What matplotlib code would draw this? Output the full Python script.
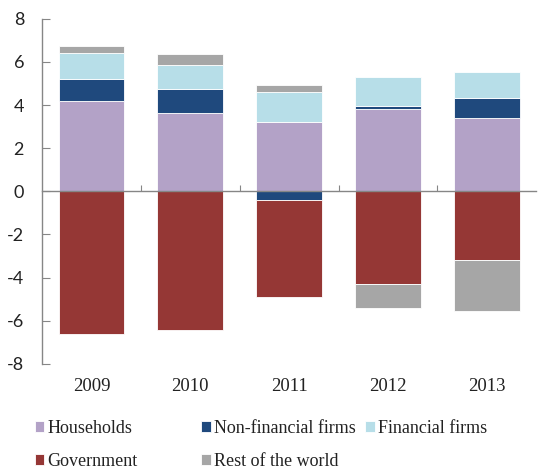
#sector balances, stacked bars
import numpy as np
import matplotlib.pyplot as plt

plt.rcParams['axes.unicode_minus'] = False

years = ['2009', '2010', '2011', '2012', '2013']
households = [4.2, 3.63, 3.2, 3.83, 3.41]
nonfin_firms = [1.0, 1.1, -0.4, 0.12, 0.9]
fin_firms = [1.2, 1.12, 1.42, 1.35, 1.22]
government = [-6.62, -6.42, -4.5, -4.32, -3.18]
rest_of_world = [0.33, 0.51, 0.33, -1.1, -2.35]

series = [('Households', households, '#b3a2c7'),
          ('Non-financial firms', nonfin_firms, '#1f497d'),
          ('Financial firms', fin_firms, '#b7dee8'),
          ('Government', government, '#953735'),
          ('Rest of the world', rest_of_world, '#a6a6a6')]

fig = plt.figure(figsize=(5.4, 4.7), dpi=100)
ax = fig.add_axes([0.078, 0.226, 0.915, 0.734])

x = np.arange(len(years))
pos = np.zeros(len(years))
neg = np.zeros(len(years))
bars = {}
for name, vals, col in series:
    vals = np.array(vals)
    bottom = np.where(vals >= 0, pos, neg)
    bars[name] = ax.bar(x, vals, 0.667, bottom=bottom, color=col,
                        edgecolor='white', linewidth=0.6, label=name)
    pos = pos + np.where(vals >= 0, vals, 0)
    neg = neg + np.where(vals < 0, vals, 0)

ax.set_xlim(-0.5, 4.5)
ax.set_ylim(-8, 8)
ax.set_yticks(range(-8, 9, 2))

#axis line through zero with small ticks between the bars
grey = '#868686'
for s in ['top', 'right']:
    ax.spines[s].set_visible(False)
ax.spines['bottom'].set_position(('data', 0))
ax.spines['bottom'].set_color(grey)
ax.spines['left'].set_color(grey)
ax.spines['bottom'].set_linewidth(1.0)
ax.spines['left'].set_linewidth(1.0)
ax.set_xticks(np.arange(0.5, 4.5, 1.0))
ax.set_xticklabels([])
ax.tick_params(axis='x', direction='in', length=4, color=grey)
ax.tick_params(axis='y', direction='in', length=6, color=grey, pad=13,
               labelsize=13, labelcolor='#222222')
for t in ax.get_yticklabels():
    t.set_fontfamily('Lato')

#year labels under the plot
sec = ax.secondary_xaxis(0.0)
sec.set_xticks(x)
sec.set_xticklabels(years, fontfamily='Liberation Serif', fontsize=13.5,
                    color='#222222')
sec.tick_params(length=0, pad=10)
sec.spines['bottom'].set_visible(False)

#legend in three columns
cols = [(['Households', 'Government'], 0.064),
        (['Non-financial firms', 'Rest of the world'], 0.372),
        (['Financial firms'], 0.676)]
for names, xpos in cols:
    fig.legend([bars[n] for n in names], names, loc='upper left',
               bbox_to_anchor=(xpos, 0.107), frameon=False,
               prop={'family': 'Liberation Serif', 'size': 13},
               handlelength=0.55, handleheight=0.55, handletextpad=0.15,
               labelspacing=0.9, borderaxespad=0, borderpad=0,
               labelcolor='#222222')

fig.savefig('out.png', dpi=100)
